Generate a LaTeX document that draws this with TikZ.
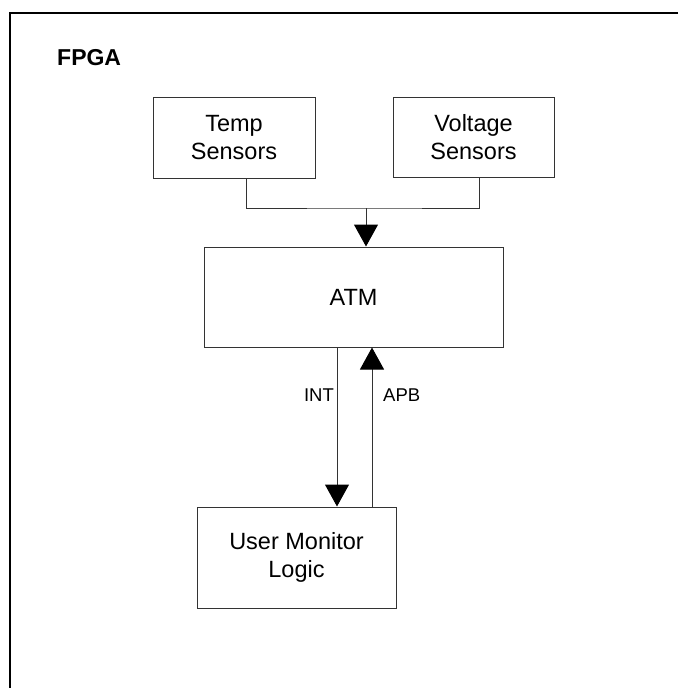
\documentclass[tikz,border=0pt]{standalone}
\usepackage{fontspec}
\setmainfont{Liberation Sans}
\usetikzlibrary{arrows.meta}
\begin{document}
\begin{tikzpicture}[x=1pt,y=-1pt,
  blk/.style={draw=black!80,line width=1pt,rectangle,inner sep=0pt,align=center,
    font=\fontsize{23.5}{28}\selectfont},
  lbl/.style={inner sep=0pt,font=\fontsize{18.5}{22}\selectfont},
  conn/.style={draw=black!80,line width=1pt},
  tip/.style={-{Triangle[width=24pt,length=22pt,color=black]}}
]
\useasboundingbox (0,0) rectangle (678,688);
\draw[line width=2.5pt] (678,13) -- (10,13) -- (10,688);
\node[anchor=west,inner sep=0pt,font=\fontsize{23}{28}\selectfont\bfseries] (fpga) at (57,58) {FPGA};
\node[blk,minimum width=162pt,minimum height=81pt] (temp) at (234,137.5) {Temp\\Sensors};
\node[blk,minimum width=161pt,minimum height=80pt] (volt) at (473.5,137) {Voltage\\Sensors};
\node[blk,minimum width=299pt,minimum height=100pt] (atm) at (353.5,297) {ATM};
\node[blk,minimum width=199pt,minimum height=101pt] (uml) at (296.5,557.5) {User Monitor\\Logic};
\coordinate (ts) at (246,178);
\coordinate (vs) at (479,177);
\coordinate (j) at (366,208);
\draw[conn] (temp.south -| ts) |- (j) -| (volt.south -| vs);
\draw[conn,tip] (j) -- (atm.north -| j);
\coordinate (ix) at (337,0);
\coordinate (ax) at (372,0);
\draw[conn,tip] (atm.south -| ix) -- (uml.north -| ix);
\draw[conn,tip] (uml.north -| ax) -- (atm.south -| ax);
\node[lbl,anchor=east] (int) at (334,395) {INT};
\node[lbl,anchor=west] (apb) at (383,395) {APB};
\end{tikzpicture}
\end{document}
